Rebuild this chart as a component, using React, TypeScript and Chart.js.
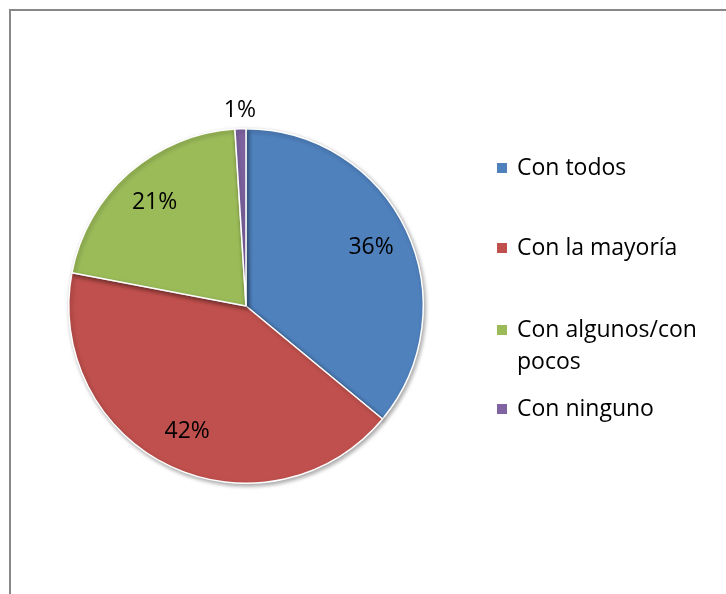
import React, { useEffect, useRef } from "react";
import { Chart, registerables } from "chart.js";

Chart.register(...registerables);

const categories = ["Con todos", "Con la mayoría", "Con algunos/con pocos", "Con ninguno"];
const legendLines = [["Con todos"], ["Con la mayoría"], ["Con algunos/con", "pocos"], ["Con ninguno"]];
const values = [36, 42, 21, 1];
const colors = ["#4F81BD", "#C0504D", "#9BBB59", "#8064A2"];

const FONT = "'Open Sans', Lato, sans-serif";

const shadowPlugin = {
  id: "shadowPlugin",
  beforeDatasetsDraw(chart: any) {
    const ctx = chart.ctx;
    ctx.save();
    ctx.shadowColor = "rgba(0,0,0,0.35)";
    ctx.shadowBlur = 4;
    ctx.shadowOffsetX = 1.5;
    ctx.shadowOffsetY = 2;
  },
  afterDatasetsDraw(chart: any) {
    chart.ctx.restore();
  },
};

const labelPlugin = {
  id: "labelPlugin",
  afterDraw(chart: any) {
    const ctx = chart.ctx;
    const meta = chart.getDatasetMeta(0);
    const data = chart.data.datasets[0].data as number[];
    const total = data.reduce((a: number, b: number) => a + b, 0);
    ctx.save();
    ctx.font = `23px ${FONT}`;
    ctx.fillStyle = "#000";
    ctx.textAlign = "center";
    ctx.textBaseline = "middle";
    meta.data.forEach((arc: any, i: number) => {
      const { x, y, startAngle, endAngle, outerRadius } = arc.getProps(
        ["x", "y", "startAngle", "endAngle", "outerRadius"],
        true
      );
      const mid = (startAngle + endAngle) / 2;
      const pct = Math.round((data[i] / total) * 100);
      const r = pct < 5 ? outerRadius + 18 : outerRadius * 0.78;
      ctx.fillText(`${pct}%`, x + Math.cos(mid) * r, y + Math.sin(mid) * r);
    });

    // legend
    const legendX = 497;
    const rowYs = [168, 248, 330, 409];
    const lineGap = 32;
    ctx.font = `23px ${FONT}`;
    ctx.textAlign = "left";
    legendLines.forEach((lines, i) => {
      const cy = rowYs[i];
      ctx.fillStyle = colors[i];
      ctx.fillRect(legendX, cy - 5, 10, 10);
      ctx.fillStyle = "#000";
      lines.forEach((t, j) => {
        ctx.fillText(t, legendX + 20, cy + j * lineGap);
      });
    });
    ctx.restore();
  },
};

export default function App() {
  const ref = useRef<HTMLCanvasElement | null>(null);
  useEffect(() => {
    if (!ref.current) return;
    const chart = new Chart(ref.current, {
      type: "pie",
      data: {
        labels: categories,
        datasets: [
          {
            data: values,
            backgroundColor: colors,
            borderColor: "#ffffff",
            borderWidth: 1.5,
          },
        ],
      },
      options: {
        animation: false,
        responsive: false,
        maintainAspectRatio: false,
        layout: { padding: { left: 68, right: 302, top: 128, bottom: 110 } },
        plugins: {
          legend: { display: false },
          tooltip: { enabled: false },
        },
      },
      plugins: [shadowPlugin, labelPlugin],
    });
    return () => chart.destroy();
  }, []);
  return (
    <div style={{ position: "fixed", left: 0, top: 0, width: 726, height: 594, background: "#fff", overflow: "hidden" }}>
      <div
        style={{
          position: "absolute",
          left: 9,
          top: 9,
          width: 760,
          height: 640,
          border: "2px solid #888888",
          boxSizing: "border-box",
        }}
      />
      <canvas ref={ref} width={726} height={594} style={{ position: "absolute", left: 0, top: 0 }} />
    </div>
  );
}
